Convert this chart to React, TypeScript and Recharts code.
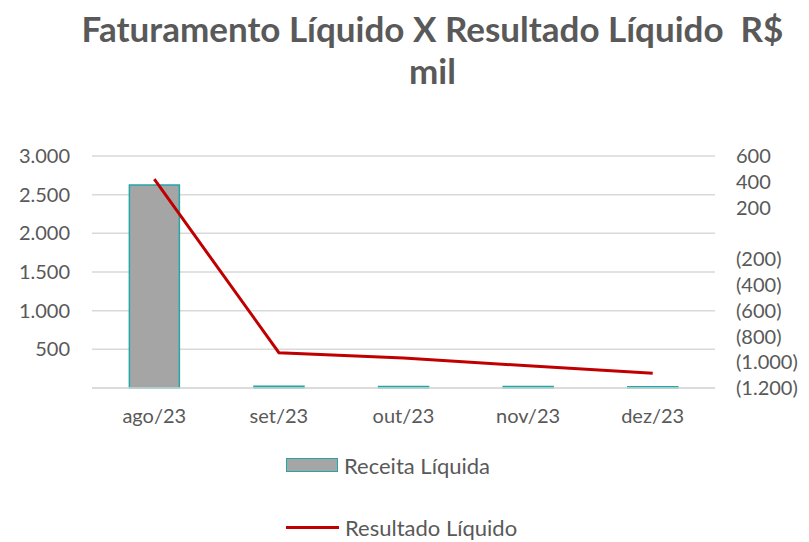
import { Bar, CartesianGrid, ComposedChart, Line, XAxis, YAxis } from "recharts";

const months = ["ago/23", "set/23", "out/23", "nov/23", "dez/23"];
const receitaLiquida = [2625, 22, 20, 18, 17];
const resultadoLiquido = [420, -926, -967, -1028, -1086];
const leftTicks = [0, 500, 1000, 1500, 2000, 2500, 3000];
const rightTicks = [-1200, -1000, -800, -600, -400, -200, 0, 200, 400, 600];

const data = months.map((m, i) => ({
  month: m,
  receita: receitaLiquida[i],
  resultado: resultadoLiquido[i],
}));

const font = "Lato, 'Open Sans', sans-serif";
const textColor = "#595959";

const fmt = (v: number) => Math.abs(v).toLocaleString("de-DE");
const fmtLeft = (v: number) => (v === 0 ? "" : fmt(v));
const fmtRight = (v: number) => (v === 0 ? "" : v < 0 ? `(${fmt(v)})` : fmt(v));

export default function App() {
  return (
    <div
      style={{
        position: "absolute",
        left: 0,
        top: 0,
        width: 809,
        height: 542,
        background: "#fff",
        fontFamily: font,
      }}
    >
      <div
        style={{
          position: "absolute",
          top: 7,
          left: 28,
          width: 809,
          textAlign: "center",
          fontSize: 35,
          fontWeight: 700,
          color: textColor,
          lineHeight: "42px",
          whiteSpace: "nowrap",
        }}
      >
        Faturamento Líquido X Resultado Líquido&nbsp;&nbsp;R$
        <br />
        mil
      </div>

      <ComposedChart
        width={809}
        height={542}
        data={data}
        margin={{ top: 156, right: 0, bottom: 124, left: 0 }}
        barCategoryGap="30%"
        style={{ position: "absolute", left: 0, top: 0 }}
      >
        <CartesianGrid yAxisId="left" vertical={false} stroke="#d9d9d9" strokeWidth={1.5} />
        <XAxis
          dataKey="month"
          height={30}
          tickLine={false}
          axisLine={{ stroke: "#d9d9d9", strokeWidth: 1.5 }}
          tickSize={0}
          tickMargin={21}
          tick={{ fill: textColor, fontSize: 20, fontFamily: font }}
        />
        <YAxis
          yAxisId="left"
          width={92}
          domain={[0, 3000]}
          ticks={leftTicks}
          tickFormatter={fmtLeft}
          axisLine={false}
          tickLine={false}
          tickSize={0}
          tickMargin={22}
          tick={{ fill: textColor, fontSize: 20, fontFamily: font }}
        />
        <YAxis
          yAxisId="right"
          orientation="right"
          width={94}
          domain={[-1200, 600]}
          ticks={rightTicks}
          tickFormatter={fmtRight}
          interval={0}
          axisLine={false}
          tickLine={false}
          tickSize={0}
          tickMargin={21}
          tick={{ fill: textColor, fontSize: 20, fontFamily: font, textAnchor: "start" }}
        />
        <Bar
          yAxisId="left"
          dataKey="receita"
          fill="#a5a5a5"
          stroke="#22a6a6"
          strokeWidth={1.5}
          isAnimationActive={false}
        />
        <Line
          yAxisId="right"
          dataKey="resultado"
          stroke="#c00000"
          strokeWidth={3}
          dot={false}
          isAnimationActive={false}
        />
      </ComposedChart>

      <div style={{ position: "absolute", left: 286, top: 453, height: 24, display: "flex", alignItems: "center" }}>
        <div
          style={{
            width: 50,
            height: 12,
            background: "#a5a5a5",
            border: "1.5px solid #22a6a6",
          }}
        />
        <span style={{ marginLeft: 6, fontSize: 22, color: textColor }}>Receita Líquida</span>
      </div>
      <div style={{ position: "absolute", left: 286, top: 515, height: 24, display: "flex", alignItems: "center" }}>
        <div style={{ width: 53, height: 3, background: "#c00000" }} />
        <span style={{ marginLeft: 6, fontSize: 22, color: textColor }}>Resultado Líquido</span>
      </div>
    </div>
  );
}
